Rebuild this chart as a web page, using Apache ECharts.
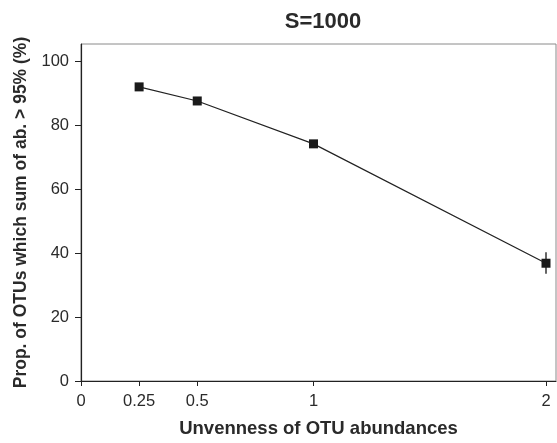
<!DOCTYPE html>
<html>
<head>
<meta charset="utf-8">
<script src="https://cdn.jsdelivr.net/npm/echarts@6/dist/echarts.min.js"></script>
<style>
  html, body { margin: 0; padding: 0; background: #fff; }
  #chart { width: 557px; height: 443px; }
</style>
</head>
<body>
<div id="chart"></div>
<script>
// data
const unevenness = [0.25, 0.5, 1, 2]
const propOTUs = [91.9, 87.5, 74.1, 36.8]
const errLow = [91.9, 87.5, 74.1, 33.5]
const errHigh = [91.9, 87.5, 74.1, 40.2]
const xTicks = [0, 0.25, 0.5, 1, 2]
const yTicks = [0, 20, 40, 60, 80, 100]

const labelColor = '#2a2a2a'
const font = 'Liberation Sans, Arial, sans-serif'

const chart = echarts.init(document.getElementById('chart'))

const option = {
  backgroundColor: '#fff',
  animation: false,
  title: {
    text: 'S=1000',
    left: 318,
    textAlign: 'center',
    top: 6,
    textStyle: { fontFamily: font, fontSize: 22, fontWeight: 'bold', color: labelColor }
  },
  grid: {
    left: 81,
    right: 1,
    top: 44,
    bottom: 61,
    show: true,
    borderColor: '#8a8a8a',
    borderWidth: 1
  },
  xAxis: {
    type: 'value',
    min: 0,
    max: 2.043,
    splitLine: { show: false },
    axisLine: { lineStyle: { color: '#222', width: 1.2 } },
    axisTick: { show: true, customValues: xTicks, length: 5, lineStyle: { color: '#222' } },
    axisLabel: {
      customValues: xTicks,
      color: labelColor,
      fontFamily: font,
      fontSize: 16.5,
      margin: 12
    },
    name: 'Unvenness of OTU abundances',
    nameLocation: 'middle',
    nameGap: 38,
    nameTextStyle: { fontFamily: font, fontSize: 18.5, fontWeight: 'bold', color: labelColor }
  },
  yAxis: {
    type: 'value',
    min: 0,
    max: 105.3,
    splitLine: { show: false },
    axisLine: { show: true, lineStyle: { color: '#222', width: 1.2 } },
    axisTick: { show: true, customValues: yTicks, length: 6, lineStyle: { color: '#222' } },
    axisLabel: {
      customValues: yTicks,
      color: labelColor,
      fontFamily: font,
      fontSize: 16.5,
      margin: 12
    },
    name: 'Prop. of OTUs which sum of ab. > 95% (%)',
    nameLocation: 'middle',
    nameGap: 49,
    nameTextStyle: { fontFamily: font, fontSize: 17.5, fontWeight: 'bold', color: labelColor }
  },
  series: [
    {
      type: 'line',
      data: unevenness.map((x, i) => [x, propOTUs[i]]),
      symbol: 'rect',
      symbolSize: 9,
      lineStyle: { color: '#222', width: 1.2 },
      itemStyle: { color: '#1a1a1a' },
      z: 3
    },
    {
      type: 'custom',
      data: unevenness.map((x, i) => [x, errLow[i], errHigh[i]]),
      renderItem: (params, api) => {
        const lo = api.coord([api.value(0), api.value(1)])
        const hi = api.coord([api.value(0), api.value(2)])
        return {
          type: 'line',
          shape: { x1: lo[0], y1: lo[1], x2: hi[0], y2: hi[1] },
          style: { stroke: '#333', lineWidth: 1.5 }
        }
      },
      z: 2
    }
  ]
}

chart.setOption(option)
</script>
</body>
</html>
